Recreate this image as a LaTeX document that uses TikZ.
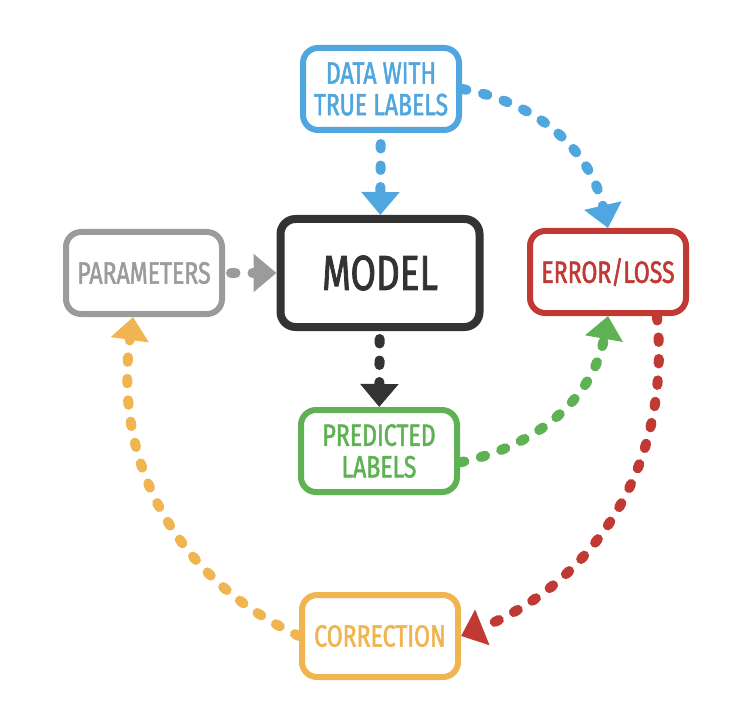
\documentclass[tikz,border=0pt]{standalone}
\usepackage{fontspec}
\newfontfamily\sketchfont[FakeStretch=0.75,FakeBold=1.6]{Fira Sans}
\usetikzlibrary{arrows.meta}

\definecolor{dataBlue}{RGB}{80,166,222}
\definecolor{modelDark}{RGB}{51,51,51}
\definecolor{paramGray}{RGB}{155,155,155}
\definecolor{errorRed}{RGB}{192,57,50}
\definecolor{predGreen}{RGB}{95,178,83}
\definecolor{corrOrange}{RGB}{240,180,80}

\begin{document}
\begin{tikzpicture}[x=0.2mm, y=0.2mm,
    stage/.style={draw=#1, text=#1, fill=white, line width=1.2mm, rounded corners=3mm,
        minimum width=31.2mm, minimum height=16.4mm, align=center,
        font=\sketchfont\fontsize{17.5}{18}\selectfont},
    flow/.style={line width=2mm, line cap=round, dash pattern=on 0.9mm off 3.4mm,
        -{Triangle[width=7.4mm,length=4.6mm]}}]
                % Page frame (pixel grid of the picture)
                \useasboundingbox (0,0) rectangle (729,-723);
                
                % Stages of the training loop
                \node[stage=dataBlue] (data) at (381,-89) {DATA WITH\\TRUE LABELS};
                \node[stage=modelDark, line width=1.6mm,
                      minimum width=39.8mm, minimum height=21.6mm,
                      font=\sketchfont\fontsize{28}{28}\selectfont] (model) at (380,-273) {MODEL};
                \node[stage=paramGray] (params) at (144,-273) {PARAMETERS};
                \node[stage=errorRed] (error) at (608,-272) {ERROR/LOSS};
                \node[stage=predGreen] (pred) at (379,-451) {PREDICTED\\LABELS};
                \node[stage=corrOrange] (corr) at (380,-636) {CORRECTION};
                
                % Straight arrows into and out of the model
                \draw[flow, dataBlue, shorten <=2.2mm] (data) -- (model);
                \draw[flow, paramGray, shorten <=1.2mm] (params) -- (model);
                \draw[flow, modelDark, shorten <=1.6mm] (model) -- (pred);
                
                % Curved arrows round the loop
                \draw[flow, dataBlue] (data.east) to[out=-10, in=103] (error.north);
                \draw[flow, predGreen] (pred.-8) to[out=12, in=-100] (error.south);
                \draw[flow, errorRed] (error.-42) to[out=-84, in=22] (corr.east);
                \draw[flow, corrOrange] (corr.west) to[out=155, in=-98] (params.-104);
            \end{tikzpicture}
\end{document}
